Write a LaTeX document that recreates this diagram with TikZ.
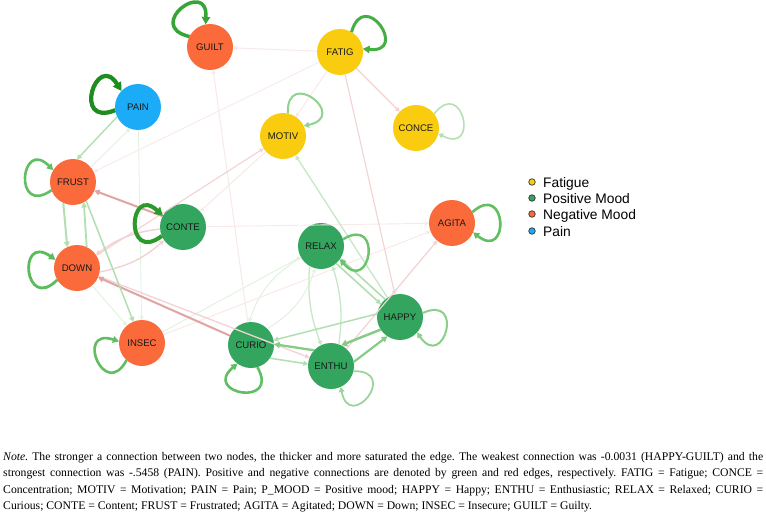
\documentclass[tikz,border=0pt]{standalone}
\usepackage{fontspec}
\setmainfont{Liberation Serif}
\newfontfamily\arialf{Liberation Sans}
\usetikzlibrary{arrows.meta,calc}
\definecolor{negc}{HTML}{FA6A3A}
\definecolor{posc}{HTML}{34A55F}
\definecolor{fatc}{HTML}{F9CC10}
\definecolor{painc}{HTML}{1CABF6}
\definecolor{gl}{HTML}{B2DFB2}
\definecolor{glt}{HTML}{C6E8C6}
\definecolor{gm}{HTML}{86CC86}
\definecolor{gf}{HTML}{E0F2E0}
\definecolor{rm}{HTML}{E0A4A4}
\definecolor{rl}{HTML}{F3D2D2}
\definecolor{rf}{HTML}{F9E8E8}
\tikzset{
  net/.style={circle, minimum size=46pt, inner sep=0pt, outer sep=0pt,
    font=\arialf\fontsize{9.6}{10}\selectfont, text=black!90},
  nneg/.style={net, fill=negc},
  npos/.style={net, fill=posc},
  nfat/.style={net, fill=fatc},
  npain/.style={net, fill=painc},
  ed/.style={-{Triangle[length=2.6pt 1.4,width=2.6pt 1.6]}},
  legdot/.style={circle, draw=black!80, line width=0.7pt, minimum size=6.5pt, inner sep=0pt},
  legtxt/.style={anchor=base west, inner sep=0pt, font=\arialf\fontsize{13.8}{16}\selectfont},
}
\newcommand\sloop[3]{%
  \draw[ed,#1] ($(#2.center)+({#3+26}:23pt)$) .. controls +({#3+40}:47pt) and +({#3-40}:47pt) .. ($(#2.center)+({#3-26}:23pt)$);}
\begin{document}
\begin{tikzpicture}[x=1pt,y=1pt]
\fill[white] (0,0) rectangle (766,-527);
\useasboundingbox (0,0) rectangle (766,-527);

% nodes
\node[nneg]  (GUILT) at (210,-47)  {GUILT};
\node[nfat]  (FATIG) at (340,-52)  {FATIG};
\node[npain] (PAIN)  at (138,-107) {PAIN};
\node[nfat]  (MOTIV) at (283,-136) {MOTIV};
\node[nfat]  (CONCE) at (416,-128) {CONCE};
\node[nneg]  (FRUST) at (73,-182)  {FRUST};
\node[npos]  (CONTE) at (183,-227) {CONTE};
\node[nneg]  (AGITA) at (452,-223) {AGITA};
\node[npos]  (RELAX) at (321,-246) {RELAX};
\node[nneg]  (DOWN)  at (77,-268)  {DOWN};
\node[npos]  (HAPPY) at (400,-317) {HAPPY};
\node[nneg]  (INSEC) at (142,-343) {INSEC};
\node[npos]  (CURIO) at (251,-345) {CURIO};
\node[npos]  (ENTHU) at (331,-366) {ENTHU};

% faint edges
\draw[ed,gf,line width=0.9pt] (FRUST.40) -- (PAIN.250);
\draw[ed,gf,line width=0.8pt] (PAIN) -- (INSEC);
\draw[ed,rf,line width=1pt] (FATIG) -- (GUILT);
\draw[ed,rf,line width=0.9pt] (FATIG) -- (MOTIV);
\draw[ed,rf,line width=0.8pt] (FATIG) -- (FRUST);
\draw[ed,rf,line width=1pt] (MOTIV) -- (CONTE);
\draw[ed,rf,line width=1pt] (CURIO) -- (GUILT);
\draw[ed,rf,line width=0.9pt] (INSEC) -- (AGITA);
\draw[ed,rf,line width=0.9pt] (CONTE) -- (AGITA);
\draw[ed,gf,line width=0.9pt] (INSEC) -- (RELAX);
\draw[ed,gf,line width=0.9pt] (DOWN) -- (INSEC);
\draw[ed,gf,line width=1pt] (CURIO.45) to[bend right=20] (RELAX.255);
\draw[ed,gf,line width=1pt] (RELAX.210) to[bend right=20] (CURIO.95);

% pink edges
\draw[ed,rl,line width=1.1pt] (DOWN) -- (MOTIV);
\draw[ed,rl,line width=1.2pt] (FATIG) -- (CONCE);
\draw[ed,rl,line width=1.1pt] (FATIG) -- (HAPPY);
\draw[ed,rl,line width=1.4pt] (CONTE.185) to[bend right=15] (DOWN.35);
\draw[ed,rl,line width=1.4pt] (DOWN.-10) to[bend right=15] (CONTE.215);
\draw[ed,rl,line width=1.3pt] (DOWN) -- (ENTHU);
\draw[ed,rl,line width=1.2pt] (ENTHU.48) -- (AGITA.230);
\draw[ed,rm,line width=2pt] (CONTE.152) -- (FRUST.-22);
\draw[ed,rm,line width=2pt] (CURIO) -- (DOWN);

% green edges
\draw[ed,gl,line width=1.4pt] (PAIN.205) -- (FRUST.80);
\draw[ed,gl,line width=2pt] (FRUST.245) -- (DOWN.115);
\draw[ed,gl,line width=1.8pt] (DOWN.65) -- (FRUST.298);
\draw[ed,gl,line width=1.5pt] (FRUST.305) -- (INSEC.112);
\draw[ed,glt,line width=1.3pt] (HAPPY) -- (MOTIV);
\draw[ed,gl,line width=1.6pt] (HAPPY.130.4) -- (RELAX.-33.6);
\draw[ed,gl,line width=1.6pt] (RELAX.-49.6) -- (HAPPY.146.4);
\draw[ed,glt,line width=1.3pt] (RELAX.240) to[bend right=12] (ENTHU.115);
\draw[ed,glt,line width=1.3pt] (ENTHU.70) to[bend right=12] (RELAX.-60);
\draw[ed,gl,line width=1.5pt] (HAPPY.172) -- (CURIO.12);
\draw[ed,gm,line width=2.3pt] (ENTHU.137) -- (CURIO.2);
\draw[ed,gl,line width=1.5pt] (CURIO.-35) -- (ENTHU.175);
\draw[ed,gm,line width=2.5pt] (HAPPY.213) -- (ENTHU.64);
\draw[ed,gm,line width=2.2pt] (ENTHU.10) -- (HAPPY.237);

% self loops
\sloop{draw={rgb,255:red,30;green,140;blue,30},line width=4.2pt}{PAIN}{162}
\sloop{draw={rgb,255:red,42;green,154;blue,42},line width=4pt}{CONTE}{177}
\sloop{draw={rgb,255:red,54;green,165;blue,54},line width=3.5pt}{GUILT}{127}
\sloop{draw={rgb,255:red,69;green,174;blue,69},line width=3pt}{FATIG}{34}
\sloop{draw={rgb,255:red,98;green,190;blue,98},line width=2.6pt}{FRUST}{175}
\sloop{draw={rgb,255:red,92;green,187;blue,92},line width=2.8pt}{DOWN}{185}
\sloop{draw={rgb,255:red,98;green,190;blue,98},line width=2.6pt}{INSEC}{202}
\sloop{draw={rgb,255:red,98;green,190;blue,98},line width=2.6pt}{CURIO}{260}
\sloop{draw={rgb,255:red,108;green,195;blue,108},line width=2.4pt}{RELAX}{-9}
\sloop{draw={rgb,255:red,98;green,190;blue,98},line width=2.6pt}{AGITA}{2}
\sloop{draw={rgb,255:red,144;green,210;blue,144},line width=2pt}{MOTIV}{52}
\sloop{draw={rgb,255:red,138;green,207;blue,138},line width=2pt}{HAPPY}{-16}
\sloop{draw={rgb,255:red,154;green,214;blue,154},line width=1.8pt}{ENTHU}{-39}
\sloop{draw={rgb,255:red,181;green,224;blue,181},line width=1.6pt}{CONCE}{12}

% legend
\node[legdot, fill=fatc]  (l1) at (532,-182) {};
\node[legdot, fill=posc]  (l2) at (532,-198) {};
\node[legdot, fill=negc]  (l3) at (532,-214) {};
\node[legdot, fill=painc] (l4) at (532,-231) {};
\node[legtxt] (t1) at (543,-187) {Fatigue};
\node[legtxt] (t2) at (543,-203) {Positive Mood};
\node[legtxt] (t3) at (543,-219) {Negative Mood};
\node[legtxt] (t4) at (543,-236) {Pain};

% note
\node[anchor=base west, inner sep=0pt] (note) at (3,-460) {\parbox[t]{760pt}{\fontsize{11.7}{16.5}\selectfont\frenchspacing
\textit{Note.} The stronger a connection between two nodes, the thicker and more saturated the edge. The weakest connection was -0.0031 (HAPPY-GUILT) and the\linebreak
strongest connection was -.5458 (PAIN). Positive and negative connections are denoted by green and red edges, respectively. FATIG = Fatigue; CONCE =\linebreak
Concentration; MOTIV = Motivation; PAIN = Pain; P\_MOOD = Positive mood; HAPPY = Happy; ENTHU = Enthusiastic; RELAX = Relaxed; CURIO =\linebreak
Curious; CONTE = Content; FRUST = Frustrated; AGITA = Agitated; DOWN = Down; INSEC = Insecure; GUILT = Guilty.}};
\end{tikzpicture}
\end{document}
